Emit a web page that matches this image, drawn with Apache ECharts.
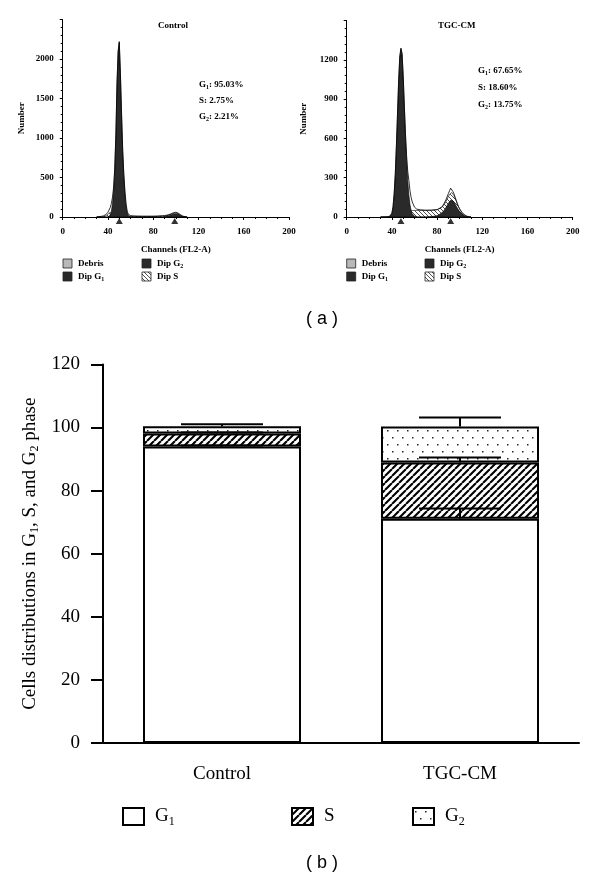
<!DOCTYPE html>
<html><head><meta charset="utf-8">
<script src="https://cdn.jsdelivr.net/npm/echarts@6/dist/echarts.min.js"></script>
<style>html,body{margin:0;padding:0;background:#fff}#c{width:600px;height:879px}</style>
</head><body><div id="c"></div>
<script>
// ===== (a) flow cytometry histograms =====
var channels = [30,32,34,36,38,40,41,42,43,44,45,46,47,48,49,50,51,52,53,54,55,56,57,58,60,62,65,70,75,80,84,86,88,90,91,92,93,94,95,96,97,98,99,100,101,102,104,106,108,110];
// Control
var ctrlTotal = [0,4,8,15,30,60,85,120,170,250,380,620,1050,1700,2100,2220,1820,1320,860,550,330,170,75,35,18,14,12,10,10,10,12,14,16,18,20,23,26,30,36,42,48,54,58,60,57,50,30,12,4,0];
var ctrlG1 = [0,0,0,0,0,0,8,25,70,170,330,590,1030,1690,2090,2210,1810,1300,840,520,290,130,50,18,4,0,0,0,0,0,0,0,0,0,0,0,0,0,0,0,0,0,0,0,0,0,0,0,0,0];
var ctrlS = [0,0,2,6,15,35,50,60,55,45,35,25,20,15,12,10,10,9,9,8,8,8,8,8,8,8,8,8,8,8,9,10,10,10,10,10,10,10,10,10,10,10,10,10,9,8,6,3,1,0];
var ctrlG2 = [0,0,0,0,0,0,0,0,0,0,0,0,0,0,0,0,0,0,0,0,0,0,0,0,0,0,0,0,0,0,0,0,1,3,5,8,12,16,21,27,32,36,39,40,38,33,18,6,1,0];
// TGC-CM
var tgcTotal = [0,0,0,2,6,30,80,180,330,550,800,1050,1230,1290,1250,1080,850,640,470,350,280,200,150,115,75,60,55,52,52,56,75,100,135,180,200,220,212,195,175,150,125,100,80,62,48,36,18,8,2,0];
var tgcG1 = [0,0,0,0,2,25,72,172,322,540,790,1040,1220,1280,1240,1070,840,620,430,280,170,95,50,25,6,0,0,0,0,0,0,0,0,0,0,0,0,0,0,0,0,0,0,0,0,0,0,0,0,0];
var tgcS = [0,0,0,0,0,1,3,5,8,12,16,20,24,28,32,36,39,42,44,46,48,49,50,50,50,50,50,50,49,46,42,42,45,52,56,58,57,54,50,45,38,30,24,19,15,12,6,2,0,0];
var tgcG2 = [0,0,0,0,0,0,0,0,0,0,0,0,0,0,0,0,0,0,0,0,0,0,0,0,0,0,0,0,3,10,30,48,75,105,118,128,130,124,112,97,82,66,51,39,29,21,9,3,0,0];
// peak markers (channel)
var ctrlPeaks = [50, 99];
var tgcPeaks = [48, 92];
var ctrlPct = ['95.03%', '2.75%', '2.21%'];
var tgcPct = ['67.65%', '18.60%', '13.75%'];

// ===== (b) stacked bars =====
var categories = ['Control', 'TGC-CM'];
var g1 = [94.0, 71.1];
var sPh = [4.1, 17.8];
var g2 = [2.3, 11.4];
var g1Err = [0.3, 3.2];
var sErr = [0.3, 1.6];
var g2Err = [0.6, 2.9];

// ---------- patterns ----------
function hatch(size, lw, dir, fg, bg) {
  var c = document.createElement('canvas'); c.width = size; c.height = size;
  var g = c.getContext('2d');
  g.fillStyle = bg; g.fillRect(0, 0, size, size);
  g.strokeStyle = fg; g.lineWidth = lw; g.beginPath();
  for (var k = -1; k <= 1; k++) {
    if (dir > 0) { g.moveTo(k * size, size); g.lineTo(k * size + size, 0); }
    else { g.moveTo(k * size, 0); g.lineTo(k * size + size, size); }
  }
  g.stroke();
  return c;
}
function dots() {
  var c = document.createElement('canvas'); c.width = 10; c.height = 14;
  var g = c.getContext('2d');
  g.fillStyle = '#fff'; g.fillRect(0, 0, 10, 14);
  g.fillStyle = '#1a2a1a';
  g.fillRect(2, 3, 1.5, 1.5); g.fillRect(7, 10, 1.5, 1.5);
  return c;
}
var barHatch = { image: hatch(7, 2.1, 1, '#000', '#fff'), repeat: 'repeat' };
var histHatch = { image: hatch(4, 0.8, -1, '#222', '#fff'), repeat: 'repeat' };
var barDots = { image: dots(), repeat: 'repeat' };

var serif = "'Liberation Serif','Times New Roman',serif";
var sans = "'Liberation Sans',Arial,sans-serif";
var DARK = '#2a2a2a';

function pairs(xs, ys) { return xs.map(function (x, i) { return [x, ys[i]]; }); }
function addArr(a, b) { return a.map(function (v, i) { return v + b[i]; }); }
function peakPts(p) { return p.map(function (x) { return [x, 0]; }); }

var smallTxt = { fontFamily: serif, fontSize: 9, fontWeight: 'bold', color: '#000' };
var richSmall = {
  m: { fontFamily: serif, fontSize: 9, fontWeight: 'bold', fill: '#000', color: '#000', lineHeight: 11, verticalAlign: 'middle' },
  s: { fontFamily: serif, fontSize: 6, fontWeight: 'bold', fill: '#000', color: '#000', lineHeight: 5, verticalAlign: 'bottom' }
};
var richBig = {
  m: { fontFamily: serif, fontSize: 19, color: '#000', lineHeight: 22, verticalAlign: 'middle' },
  s: { fontFamily: serif, fontSize: 12, color: '#000', lineHeight: 9, verticalAlign: 'bottom' }
};
function plainNum(v) { return String(v); }

function histX(gi) {
  return {
    type: 'value', gridIndex: gi, min: 0, max: 200, interval: 40,
    axisLine: { lineStyle: { color: '#000', width: 1 } },
    axisTick: { length: 3, lineStyle: { color: '#000', width: 1 } },
    minorTick: { show: true, splitNumber: 4, length: 2, lineStyle: { color: '#000', width: 1 } },
    splitLine: { show: false },
    axisLabel: Object.assign({ margin: 10, formatter: plainNum }, smallTxt),
    name: 'Channels (FL2-A)', nameLocation: 'middle', nameGap: 28, nameTextStyle: smallTxt
  };
}
function histY(gi, max, itv, gap) {
  return {
    type: 'value', gridIndex: gi, min: 0, max: max, interval: itv,
    axisLine: { show: true, lineStyle: { color: '#000', width: 1 } },
    axisTick: { show: true, length: 3, lineStyle: { color: '#000', width: 1 } },
    minorTick: { show: true, splitNumber: 5, length: 2, lineStyle: { color: '#000', width: 1 } },
    splitLine: { show: false },
    axisLabel: Object.assign({ margin: 9, showMaxLabel: false, formatter: plainNum }, smallTxt),
    name: 'Number', nameLocation: 'middle', nameGap: gap, nameRotate: 90, nameTextStyle: smallTxt
  };
}
function histSeries(gi, total, g1f, sf, g2f, peaks) {
  var base = { type: 'line', xAxisIndex: gi, yAxisIndex: gi, symbol: 'none', silent: true };
  var sTop = addArr(g2f, sf);  // S fit drawn on top of the G2 fit
  return [
    Object.assign({}, base, { name: 'Dip S ' + gi, data: pairs(channels, sTop),
      lineStyle: { color: '#000', width: 0.6 }, areaStyle: { color: histHatch, opacity: 1 }, z: 2 }),
    Object.assign({}, base, { name: 'Dip G2 ' + gi, data: pairs(channels, g2f),
      lineStyle: { color: '#000', width: 0.6 }, areaStyle: { color: DARK, opacity: 1 }, z: 3 }),
    Object.assign({}, base, { name: 'Dip G1 ' + gi, data: pairs(channels, g1f),
      lineStyle: { color: '#000', width: 0.6 }, areaStyle: { color: DARK, opacity: 1 }, z: 3 }),
    Object.assign({}, base, { name: 'Total ' + gi, data: pairs(channels, total),
      lineStyle: { color: '#000', width: 0.8 }, z: 4 }),
    { type: 'scatter', xAxisIndex: gi, yAxisIndex: gi, data: peakPts(peaks), symbol: 'triangle',
      symbolSize: [7, 6], symbolOffset: [0, 4], clip: false, silent: true,
      itemStyle: { color: '#000' }, z: 6 }
  ];
}

// bar stacks cumulative for error bars
function errData(base, vals, errs) {
  return categories.map(function (c, i) {
    var top = base[i] + vals[i];
    return [i, top, top + errs[i]];
  });
}
var zeros = categories.map(function () { return 0; });
var cumG1 = g1.slice();
var cumS = addArr(g1, sPh);
var errAll = errData(zeros, g1, g1Err).concat(errData(cumG1, sPh, sErr)).concat(errData(cumS, g2, g2Err));

function textEl(x, y, txt, rich, align) {
  return { type: 'text', x: x, y: y, silent: true,
    style: { text: txt, rich: rich, align: align || 'left', verticalAlign: 'middle' } };
}
function plainText(x, y, txt, font, align) {
  return { type: 'text', x: x, y: y, silent: true,
    style: { text: txt, font: font, fill: '#000', align: align || 'center', verticalAlign: 'middle' } };
}
function legendBox(x, y, fill) {
  return { type: 'rect', silent: true, shape: { x: x, y: y, width: 9, height: 9 },
    style: { fill: fill, stroke: '#222', lineWidth: 0.8 } };
}
function histLegend(x0, x1) {
  return [
    legendBox(x0, 259, '#b8b8b8'), textEl(x0 + 15, 263.5, '{m|Debris}', richSmall),
    legendBox(x0, 272, DARK), textEl(x0 + 15, 276.5, '{m|Dip G}{s|1}', richSmall),
    legendBox(x1, 259, DARK), textEl(x1 + 15, 263.5, '{m|Dip G}{s|2}', richSmall),
    legendBox(x1, 272, histHatch), textEl(x1 + 15, 276.5, '{m|Dip S}', richSmall)
  ];
}
function pctTexts(x, ys, p) {
  return [
    textEl(x, ys[0], '{m|G}{s|1}{m|: ' + p[0] + '}', richSmall),
    textEl(x, ys[1], '{m|S: ' + p[1] + '}', richSmall),
    textEl(x, ys[2], '{m|G}{s|2}{m|: ' + p[2] + '}', richSmall)
  ];
}

var legendCommon = {
  orient: 'horizontal', icon: 'rect', itemWidth: 21, itemHeight: 17, selectedMode: false,
  textStyle: { fontFamily: serif, fontSize: 19, color: '#000', padding: [0, 0, 0, 6], rich: richBig },
  formatter: function (n) { return n === 'S' ? '{m|S}' : '{m|G}{s|' + n.charAt(1) + '}'; }
};

var chart = echarts.init(document.getElementById('c'), null, { renderer: 'canvas' });
chart.setOption({
  animation: false,
  backgroundColor: '#fff',
  grid: [
    { left: 62.7, top: 19.5, width: 226.3, height: 197.5 },
    { left: 346.7, top: 20.5, width: 226, height: 196.5 },
    { left: 103, top: 364.4, width: 476, height: 378.6 }
  ],
  xAxis: [histX(0), histX(1), {
    type: 'category', gridIndex: 2, data: categories,
    axisLine: { lineStyle: { color: '#000', width: 2 } },
    axisTick: { alignWithLabel: true, length: 13, lineStyle: { color: '#000', width: 2 } },
    axisLabel: { fontFamily: serif, fontSize: 19, color: '#000', margin: 22 }
  }],
  yAxis: [histY(0, 2500, 500, 37), histY(1, 1500, 300, 39), {
    type: 'value', gridIndex: 2, min: 0, max: 120, interval: 20,
    axisLine: { show: true, lineStyle: { color: '#000', width: 2 } },
    axisTick: { show: true, length: 12, lineStyle: { color: '#000', width: 2 } },
    splitLine: { show: false },
    axisLabel: { fontFamily: serif, fontSize: 19, color: '#000', margin: 23 },
    name: '{m|Cells distributions in G}{s|1}{m|, S, and G}{s|2}{m| phase}',
    nameLocation: 'middle', nameRotate: 90, nameGap: 60,
    nameTextStyle: { fontFamily: serif, fontSize: 19, color: '#000', rich: richBig }
  }],
  legend: [
    Object.assign({}, legendCommon, { data: ['G1'], left: 117, top: 802 }),
    Object.assign({}, legendCommon, { data: ['S'], left: 286, top: 802 }),
    Object.assign({}, legendCommon, { data: ['G2'], left: 407, top: 802 })
  ],
  series: histSeries(0, ctrlTotal, ctrlG1, ctrlS, ctrlG2, ctrlPeaks)
    .concat(histSeries(1, tgcTotal, tgcG1, tgcS, tgcG2, tgcPeaks))
    .concat([
      { name: 'G1', type: 'bar', xAxisIndex: 2, yAxisIndex: 2, stack: 'cells', data: g1, barWidth: 158,
        itemStyle: { color: '#fff', borderColor: '#000', borderWidth: 2 } },
      { name: 'S', type: 'bar', xAxisIndex: 2, yAxisIndex: 2, stack: 'cells', data: sPh, barWidth: 158,
        itemStyle: { color: barHatch, borderColor: '#000', borderWidth: 2 } },
      { name: 'G2', type: 'bar', xAxisIndex: 2, yAxisIndex: 2, stack: 'cells', data: g2, barWidth: 158,
        itemStyle: { color: barDots, borderColor: '#000', borderWidth: 2 } },
      { type: 'custom', xAxisIndex: 2, yAxisIndex: 2, data: errAll, z: 10, silent: true,
        encode: { x: 0, y: [1, 2] },
        renderItem: function (params, api) {
          var c = api.value(0);
          var p0 = api.coord([c, api.value(1)]);
          var p1 = api.coord([c, api.value(2)]);
          var hw = 41;
          return { type: 'group', children: [
            { type: 'line', shape: { x1: p0[0], y1: p0[1], x2: p1[0], y2: p1[1] }, style: { stroke: '#000', lineWidth: 2 } },
            { type: 'line', shape: { x1: p1[0] - hw, y1: p1[1], x2: p1[0] + hw, y2: p1[1] }, style: { stroke: '#000', lineWidth: 2 } }
          ] };
        } }
    ]),
  graphic: [
    plainText(173, 26, 'Control', 'bold 9px ' + serif),
    plainText(456.7, 26, 'TGC-CM', 'bold 9px ' + serif),
    plainText(322, 319, '( a )', '18px ' + sans),
    plainText(322, 863, '( b )', '18px ' + sans)
  ].concat(pctTexts(199, [85, 100.7, 117], ctrlPct))
   .concat(pctTexts(478, [71, 88, 105], tgcPct))
   .concat(histLegend(63, 142))
   .concat(histLegend(346.7, 425))
});
</script>
</body></html>
